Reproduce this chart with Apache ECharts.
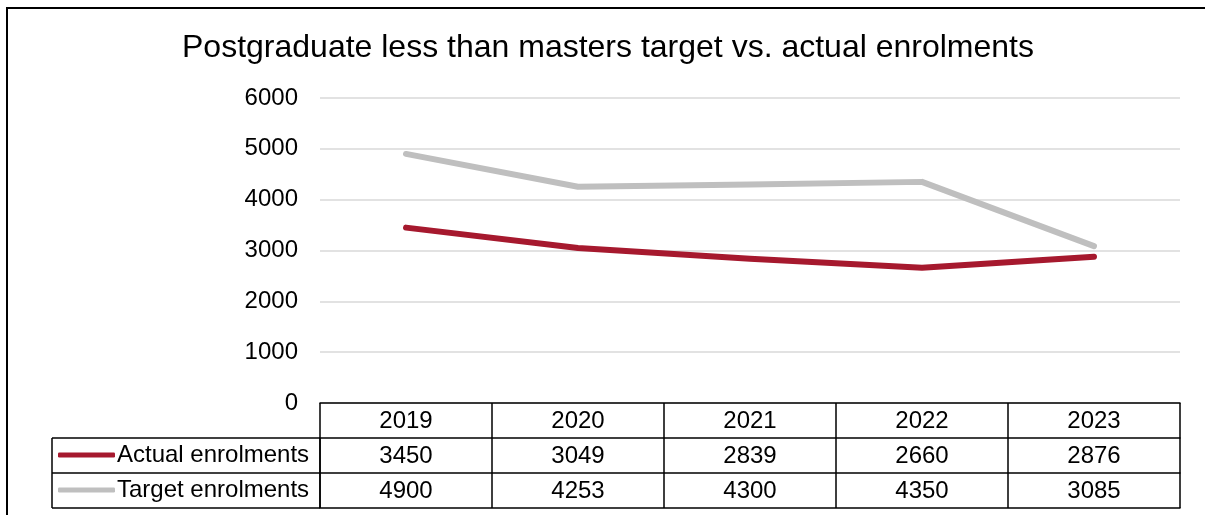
<!DOCTYPE html>
<html>
<head>
<meta charset="utf-8">
<title>Postgraduate less than masters target vs. actual enrolments</title>
<script src="https://cdn.jsdelivr.net/npm/echarts@6/dist/echarts.min.js"></script>
<style>
  html, body { margin: 0; padding: 0; background: #fff; }
  #chart { width: 1205px; height: 515px; }
</style>
</head>
<body>
<div id="chart"></div>
<script>
// Enrolment figures by year
const years = ['2019', '2020', '2021', '2022', '2023'];
const actualEnrolments = [3450, 3049, 2839, 2660, 2876];
const targetEnrolments = [4900, 4253, 4300, 4350, 3085];
const yTicks = [0, 1000, 2000, 3000, 4000, 5000, 6000];

const seriesNames = ['Actual enrolments', 'Target enrolments'];
const seriesColors = ['#A6192E', '#BFBFBF'];

const FONT = 'Liberation Sans, Arial, sans-serif';
const LABEL_SIZE = 24;
const ROW = 35;          // data-table row height
const GRID_LEFT = 320;
const GRID_RIGHT = 25;
const GRID_TOP = 98;
const GRID_BOTTOM = 112;
const TABLE_TOP = 515 - GRID_BOTTOM;
const LEGEND_LEFT = 52;

// one category axis per data-table row, stacked below the plot
function tableAxis(rowIndex, labels, showLabels) {
  return {
    type: 'category',
    position: 'bottom',
    offset: rowIndex * ROW,
    data: labels,
    boundaryGap: true,
    axisLine: { show: true, lineStyle: { color: '#000', width: 1.5 } },
    axisTick: {
      show: showLabels,
      interval: 0,
      length: ROW,
      lineStyle: { color: '#000', width: 1.5 }
    },
    axisLabel: {
      show: showLabels,
      interval: 0,
      margin: 6,
      color: '#000',
      fontSize: LABEL_SIZE,
      lineHeight: LABEL_SIZE,
      fontFamily: FONT
    },
    splitLine: { show: false }
  };
}

const chart = echarts.init(document.getElementById('chart'), null, { renderer: 'canvas' });

// borders of the legend column of the data table
const rowLines = [1, 2, 3].map(i => ({
  type: 'line',
  shape: { x1: LEGEND_LEFT, y1: TABLE_TOP + i * ROW, x2: GRID_LEFT, y2: TABLE_TOP + i * ROW },
  style: { stroke: '#000', lineWidth: 1.5 }
}));
const colLines = [LEGEND_LEFT, GRID_LEFT].map(x => ({
  type: 'line',
  shape: { x1: x, y1: TABLE_TOP + ROW, x2: x, y2: TABLE_TOP + 3 * ROW },
  style: { stroke: '#000', lineWidth: 1.5 }
}));

chart.setOption({
  backgroundColor: '#fff',
  animation: false,
  title: {
    text: 'Postgraduate less than masters target vs. actual enrolments',
    left: 182,
    top: 32,
    padding: 0,
    textStyle: { fontFamily: FONT, fontSize: 32, fontWeight: 'normal', color: '#000' }
  },
  legend: seriesNames.map((name, i) => ({
    data: [name],
    left: LEGEND_LEFT + 6,
    top: TABLE_TOP + (i + 1) * ROW + 5,
    itemWidth: 57,
    itemHeight: 5,
    icon: 'roundRect',
    padding: 0,
    selectedMode: false,
    textStyle: { fontFamily: FONT, fontSize: LABEL_SIZE, color: '#000', padding: [0, 0, 0, -3] }
  })),
  grid: { left: GRID_LEFT, right: GRID_RIGHT, top: GRID_TOP, bottom: GRID_BOTTOM },
  xAxis: [
    tableAxis(0, years, true),
    tableAxis(1, actualEnrolments.map(String), true),
    tableAxis(2, targetEnrolments.map(String), true),
    tableAxis(3, years.map(() => ''), false)
  ],
  yAxis: {
    type: 'value',
    min: yTicks[0],
    max: yTicks[yTicks.length - 1],
    interval: yTicks[1] - yTicks[0],
    axisLine: { show: false },
    axisTick: { show: false },
    axisLabel: {
      color: '#000', fontSize: LABEL_SIZE, fontFamily: FONT, margin: 22,
      formatter: v => String(v)
    },
    splitLine: { lineStyle: { color: '#D9D9D9', width: 1.5 } }
  },
  series: [
    {
      name: seriesNames[1],
      type: 'line',
      xAxisIndex: 0,
      data: targetEnrolments,
      symbol: 'none',
      color: seriesColors[1],
      lineStyle: { color: seriesColors[1], width: 6, cap: 'round', join: 'round' },
      z: 2
    },
    {
      name: seriesNames[0],
      type: 'line',
      xAxisIndex: 0,
      data: actualEnrolments,
      symbol: 'none',
      color: seriesColors[0],
      lineStyle: { color: seriesColors[0], width: 6, cap: 'round', join: 'round' },
      z: 3
    }
  ],
  graphic: [
    // outer frame (top and left edges)
    { type: 'polyline', shape: { points: [[7, 515], [7, 8], [1205, 8]] },
      style: { stroke: '#000', lineWidth: 2, fill: null } },
    ...rowLines,
    ...colLines
  ]
});
</script>
</body>
</html>
